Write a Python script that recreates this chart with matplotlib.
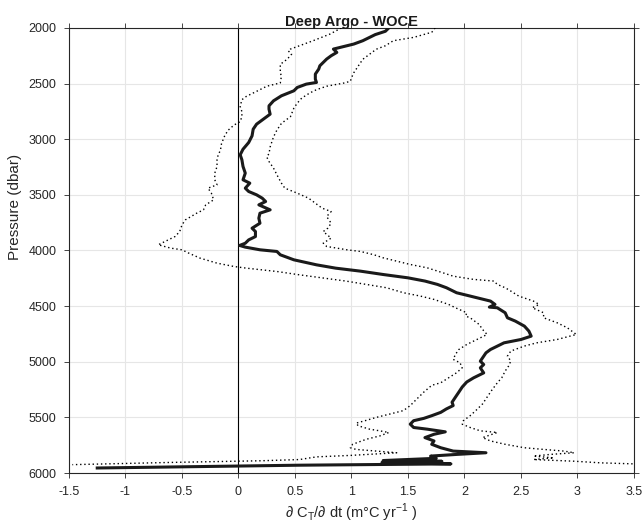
import numpy as np
import matplotlib.pyplot as plt

plt.rcParams['font.family'] = ['Liberation Sans', 'DejaVu Sans']

#  mean profile (pressure in dbar, rate in m°C/yr)
p_mean = [2000, 2030, 2060, 2115, 2145, 2175, 2190, 2220, 2250, 2280, 2310, 2340, 2370, 2415, 2460,
          2490, 2505, 2535, 2565, 2610, 2655, 2700, 2730, 2775, 2820, 2865, 2910, 2970, 3030, 3090,
          3140, 3185, 3245, 3305, 3365, 3395, 3440, 3470, 3500, 3530, 3560, 3590, 3635, 3665, 3710,
          3755, 3800, 3830, 3875, 3905, 3935, 3955, 3970, 3994, 4009, 4039, 4084, 4129, 4159, 4186,
          4216, 4246, 4275, 4305, 4335, 4380, 4410, 4455, 4485, 4509, 4515, 4560, 4605, 4635, 4680,
          4725, 4770, 4800, 4830, 4860, 4890, 4920, 4950, 4995, 5025, 5055, 5100, 5145, 5182, 5227,
          5273, 5318, 5364, 5394, 5424, 5455, 5485, 5509, 5530, 5561, 5591, 5606, 5630, 5652, 5682,
          5712, 5742, 5773, 5803, 5818, 5833, 5848, 5868, 5888, 5895, 5905, 5918, 5930, 5955]
v_mean = [1.33, 1.30, 1.21, 1.10, 1.02, 0.90, 0.84, 0.87, 0.82, 0.78, 0.75, 0.72, 0.71, 0.68, 0.68,
          0.69, 0.60, 0.52, 0.49, 0.38, 0.31, 0.27, 0.27, 0.28, 0.22, 0.16, 0.13, 0.12, 0.09, 0.04,
          0.015, 0.03, 0.04, 0.06, 0.04, 0.10, 0.06, 0.09, 0.16, 0.21, 0.24, 0.18, 0.28, 0.19, 0.18,
          0.19, 0.12, 0.15, 0.15, 0.09, 0.06, 0.01, 0.06, 0.19, 0.34, 0.37, 0.49, 0.69, 0.86, 1.08,
          1.28, 1.50, 1.65, 1.76, 1.84, 1.93, 2.05, 2.23, 2.27, 2.22, 2.29, 2.36, 2.38, 2.45, 2.53,
          2.57, 2.59, 2.50, 2.35, 2.29, 2.23, 2.19, 2.17, 2.14, 2.17, 2.14, 2.17, 2.08, 2.02, 1.98,
          1.95, 1.92, 1.89, 1.90, 1.84, 1.79, 1.71, 1.64, 1.55, 1.52, 1.55, 1.67, 1.83, 1.73, 1.65,
          1.73, 1.71, 1.79, 1.90, 2.19, 1.93, 1.70, 1.75, 1.28, 1.80, 1.27, 1.88, 0.53, -1.25]

#  lower bound
p_low = [2000, 2055, 2115, 2160, 2190, 2206, 2236, 2282, 2327, 2403, 2433, 2494, 2524, 2570, 2615,
         2645, 2706, 2752, 2797, 2842, 2873, 2918, 2964, 3039, 3100, 3141, 3186, 3246, 3305, 3365,
         3410, 3440, 3485, 3545, 3590, 3635, 3665, 3725, 3770, 3829, 3874, 3919, 3949, 3979, 3994,
         4024, 4069, 4114, 4144, 4159, 4189, 4219, 4249, 4275, 4305, 4335, 4380, 4410, 4440, 4485,
         4515, 4560, 4590, 4605, 4665, 4710, 4755, 4800, 4845, 4890, 4934, 4979, 5009, 5054, 5099,
         5144, 5189, 5212, 5273, 5333, 5394, 5439, 5470, 5500, 5530, 5552, 5576, 5606, 5621, 5636,
         5667, 5697, 5742, 5773, 5788, 5803, 5818, 5842, 5855, 5879, 5890, 5905, 5925]
v_low = [0.91, 0.81, 0.66, 0.54, 0.46, 0.44, 0.47, 0.43, 0.37, 0.37, 0.38, 0.37, 0.25, 0.16, 0.07,
         0.03, 0.015, 0.03, 0.03, 0.015, -0.04, -0.09, -0.12, -0.15, -0.16, -0.18, -0.19, -0.19, -0.21, -0.21,
         -0.19, -0.27, -0.24, -0.22, -0.29, -0.31, -0.37, -0.47, -0.50, -0.52, -0.56, -0.65, -0.71, -0.60, -0.50,
         -0.44, -0.34, -0.19, -0.04, 0.07, 0.34, 0.54, 0.76, 0.95, 1.13, 1.31, 1.46, 1.61, 1.73, 1.86,
         1.92, 2.02, 2.01, 2.05, 2.13, 2.16, 2.20, 2.11, 2.02, 1.95, 1.92, 1.90, 1.96, 1.98, 1.93,
         1.86, 1.79, 1.71, 1.64, 1.58, 1.52, 1.46, 1.34, 1.22, 1.12, 1.04, 1.06, 1.16, 1.25, 1.33,
         1.25, 1.13, 1.01, 0.99, 1.04, 1.22, 1.40, 0.99, 0.69, 0.54, 0.20, -0.60, -1.47]

#  upper bound
p_up = [2000, 2039, 2085, 2115, 2160, 2191, 2221, 2282, 2342, 2403, 2448, 2479, 2494, 2524, 2555,
        2585, 2630, 2676, 2721, 2797, 2858, 2918, 2979, 3070, 3130, 3160, 3201, 3260, 3320, 3395,
        3440, 3485, 3530, 3575, 3620, 3650, 3695, 3755, 3800, 3830, 3889, 3934, 3964, 3994, 4009,
        4039, 4066, 4096, 4126, 4156, 4201, 4231, 4260, 4275, 4305, 4335, 4365, 4410, 4455, 4485,
        4515, 4560, 4605, 4650, 4695, 4755, 4800, 4830, 4859, 4904, 4949, 4994, 5039, 5084, 5144,
        5190, 5258, 5318, 5379, 5439, 5485, 5530, 5561, 5591, 5621, 5636, 5682, 5712, 5742, 5773,
        5788, 5803, 5818, 5833, 5848, 5864, 5879, 5894, 5909, 5918]
v_up = [1.74, 1.71, 1.55, 1.37, 1.30, 1.22, 1.18, 1.10, 1.06, 1.02, 1.00, 0.99, 0.94, 0.78, 0.69,
        0.63, 0.56, 0.52, 0.49, 0.46, 0.38, 0.34, 0.31, 0.28, 0.27, 0.25, 0.27, 0.31, 0.34, 0.38,
        0.41, 0.52, 0.62, 0.68, 0.74, 0.82, 0.78, 0.82, 0.79, 0.75, 0.82, 0.75, 0.78, 0.96, 1.08,
        1.20, 1.28, 1.40, 1.52, 1.67, 1.81, 1.90, 2.08, 2.26, 2.29, 2.36, 2.41, 2.48, 2.61, 2.66,
        2.60, 2.70, 2.70, 2.82, 2.91, 2.99, 2.82, 2.64, 2.53, 2.41, 2.38, 2.41, 2.39, 2.36, 2.33,
        2.29, 2.24, 2.20, 2.16, 2.10, 2.05, 1.99, 1.98, 2.05, 2.14, 2.29, 2.16, 2.23, 2.36, 2.53,
        2.70, 2.88, 2.97, 2.76, 2.61, 2.79, 2.61, 2.97, 3.21, 3.5]

x_ticks = [-1.5, -1, -0.5, 0, 0.5, 1, 1.5, 2, 2.5, 3, 3.5]
y_ticks = [2000, 2500, 3000, 3500, 4000, 4500, 5000, 5500, 6000]

ax_col = '#262626'

fig = plt.figure(figsize=(6.43, 5.23), dpi=100)
ax = fig.add_axes([0.1073, 0.0956, 0.8787, 0.851])

ax.axvline(0, color='k', lw=0.8, zorder=2)
ax.plot(v_low, p_low, color='k', lw=1.0, ls=(0, (1, 2)), zorder=3)
ax.plot(v_up, p_up, color='k', lw=1.0, ls=(0, (1, 2)), zorder=3)
ax.plot(v_mean, p_mean, color='#1a1a1a', lw=2.2, zorder=4)

ax.set_xlim(-1.5, 3.5)
ax.set_ylim(6000, 2000)
ax.set_xticks(x_ticks)
ax.set_xticklabels([f'{t:g}' for t in x_ticks])
ax.set_yticks(y_ticks)

ax.grid(True, color='#e6e6e6', lw=0.8, zorder=0)
ax.set_axisbelow(True)
ax.tick_params(direction='out', length=3.5, width=0.6, colors=ax_col, labelsize=9,
               top=True, right=True, labelcolor=ax_col, pad=5.5)
for s in ax.spines.values():
    s.set_color(ax_col)
    s.set_linewidth(0.8)

ax.set_title('Deep Argo - WOCE', fontsize=10.5, fontweight='bold', color='#1a1a1a', pad=1.5)
ax.set_xlabel('∂ C$_\\mathregular{T}$/∂ dt (m°C yr$^\\mathregular{-1}$ )', fontsize=10.5, color=ax_col, labelpad=3)
ax.set_ylabel('Pressure (dbar)', fontsize=11, color=ax_col)
ax.yaxis.set_label_coords(-0.083, 0.598)

fig.savefig('out.png', dpi=100)
